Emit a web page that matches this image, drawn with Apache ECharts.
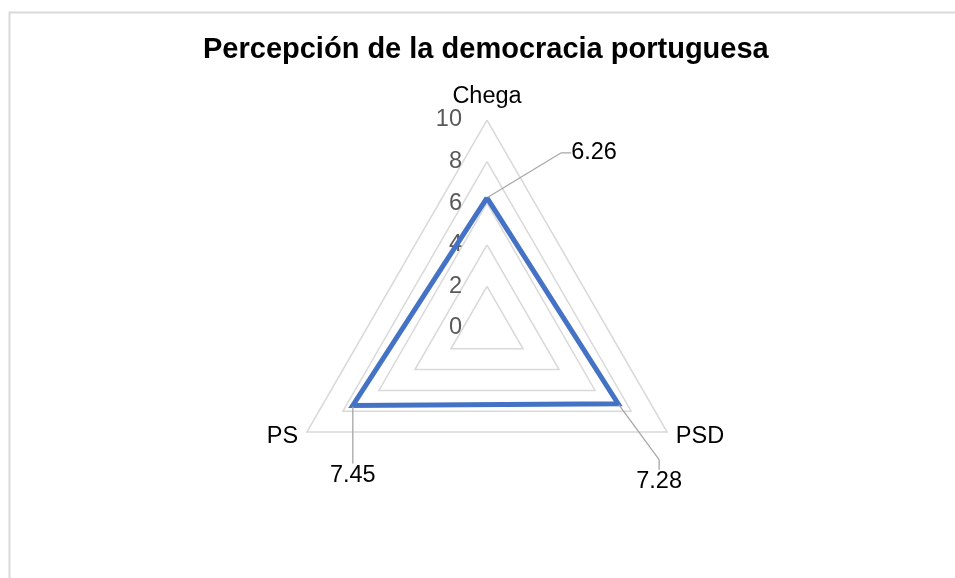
<!DOCTYPE html>
<html>
<head>
<meta charset="utf-8">
<script src="https://cdn.jsdelivr.net/npm/echarts@6/dist/echarts.min.js"></script>
<style>
html,body{margin:0;padding:0;background:#fff;}
#chart{width:955px;height:578px;}
</style>
</head>
<body>
<div id="chart"></div>
<script>
// ---- data ----
const chartTitle = 'Percepción de la democracia portuguesa';
// categories in clockwise order as in the reference (Chega top, PSD lower-right, PS lower-left)
const categories = ['Chega', 'PSD', 'PS'];
const values = [6.26, 7.28, 7.45];
const axisMin = 0;
const axisMax = 10;
const axisInterval = 2;

// ---- layout / style (not data) ----
// ECharts radar places indicators counter-clockwise, so reverse the tail to get clockwise order
const order = [0, 2, 1];
const labelOffsets = { 'Chega': [107, -45], 'PSD': [41, 78], 'PS': [0, 70] };
const FONT = 'Liberation Sans, Arial, sans-serif';

const ecCategories = order.map(i => categories[i]);
const ecValues = order.map(i => values[i]);

const chart = echarts.init(document.getElementById('chart'), null, { renderer: 'canvas' });
chart.setOption({
  animation: false,
  backgroundColor: '#ffffff',
  graphic: [{
    type: 'rect',
    left: 7, top: 10,
    shape: { width: 1000, height: 700 },
    style: { fill: 'none', stroke: '#d9d9d9', lineWidth: 2 },
    silent: true, z: -1
  }],
  title: {
    text: chartTitle,
    left: 203,
    top: 35,
    padding: 0,
    textStyle: { fontFamily: FONT, fontSize: 29, fontWeight: 'bold', color: '#000' }
  },
  radar: {
    center: [487, 328],
    radius: 208,
    startAngle: 90,
    shape: 'polygon',
    splitNumber: (axisMax - axisMin) / axisInterval,
    nameGap: 10,
    axisName: { color: '#000', fontSize: 23.5, fontFamily: FONT },
    axisLine: { show: false },
    axisTick: { show: false },
    splitArea: { show: false },
    splitLine: { lineStyle: { color: '#d9d9d9', width: 1.5 } },
    axisLabel: { show: false, color: '#595959', fontSize: 23.5, fontFamily: FONT, margin: 25, padding: [3, 0, 0, 0] },
    indicator: ecCategories.map((name, i) => ({
      name: name,
      min: axisMin,
      max: axisMax,
      axisLabel: { show: i === 0 }
    }))
  },
  series: [{
    type: 'radar',
    symbol: 'circle',
    symbolSize: 2,
    itemStyle: { color: '#4472c4' },
    lineStyle: { color: '#4472c4', width: 5, join: 'miter' },
    data: [{ value: ecValues, name: 'Percepción' }],
    label: {
      show: true,
      position: 'inside',
      color: '#000',
      fontSize: 23.5,
      fontFamily: FONT,
      padding: [5, 8]
    },
    labelLine: {
      show: true,
      length2: 10,
      lineStyle: { color: '#a6a6a6', width: 1.3 }
    },
    labelLayout: function (params) {
      const t = String(params.text).trim();
      const idx = values.findIndex(v => Number(v) === Number(t));
      if (idx < 0) return {};
      const off = labelOffsets[categories[idx]];
      return { dx: off[0], dy: off[1] };
    }
  }]
});
</script>
</body>
</html>
